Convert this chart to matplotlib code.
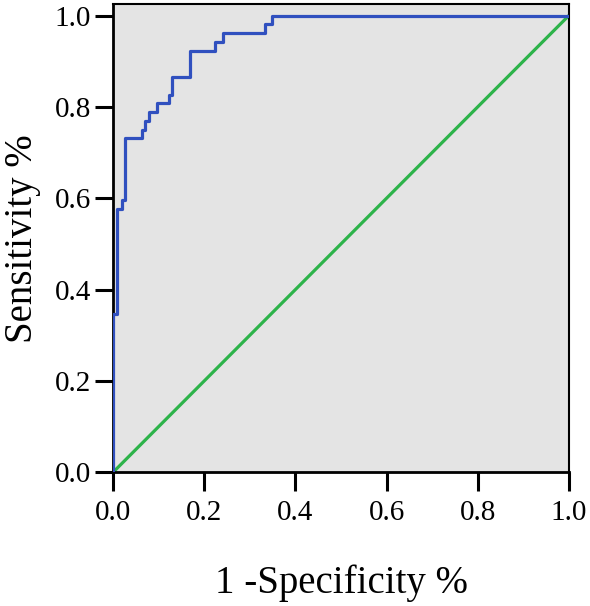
import matplotlib
matplotlib.use("Agg")
import matplotlib.pyplot as plt
import numpy as np

# ROC step points (1 - specificity, sensitivity)
fpr = [0.0, 0.0, 0.008, 0.008, 0.019, 0.019, 0.025, 0.025, 0.063, 0.063,
       0.069, 0.069, 0.078, 0.078, 0.095, 0.095, 0.122, 0.122, 0.128, 0.128,
       0.169, 0.169, 0.223, 0.223, 0.240, 0.240, 0.333, 0.333, 0.349, 0.349, 1.0]
tpr = [0.0, 0.346, 0.346, 0.577, 0.577, 0.596, 0.596, 0.731, 0.731, 0.750,
       0.750, 0.769, 0.769, 0.788, 0.788, 0.808, 0.808, 0.827, 0.827, 0.865,
       0.865, 0.923, 0.923, 0.942, 0.942, 0.962, 0.962, 0.981, 0.981, 1.0, 1.0]
ref_line = [0.0, 1.0]
ticks = [0.0, 0.2, 0.4, 0.6, 0.8, 1.0]

plt.rcParams['font.family'] = ['Liberation Serif', 'DejaVu Serif']

fig = plt.figure(figsize=(5.9, 6.06), dpi=100)
ax = fig.add_axes([0.192, 0.221, 0.772, 0.772])
ax.set_facecolor('#e4e4e4')

ax.plot(ref_line, ref_line, color='#2db34a', lw=2.3, zorder=2)
ax.plot(fpr, tpr, color='#3050bf', lw=2.3, zorder=3)

ax.set_xlim(0, 1.0)
ax.set_ylim(0, 1.025)
ax.set_xticks(ticks)
ax.set_yticks(ticks)
ax.set_xticklabels([f"{t:.1f}" for t in ticks])
ax.set_yticklabels([f"{t:.1f}" for t in ticks])
ax.tick_params(axis='x', length=14, width=2.2, labelsize=21, pad=6, color='black')
ax.tick_params(axis='y', length=13, width=2.2, labelsize=21, pad=3, color='black')

for side in ['left', 'bottom']:
    ax.spines[side].set_linewidth(2.0)
for side in ['top', 'right']:
    ax.spines[side].set_linewidth(1.5)

ax.set_xlabel("1 -Specificity %", fontsize=28, labelpad=28)
ax.set_ylabel("Sensitivity %", fontsize=28, labelpad=10)

fig.savefig("out.png", dpi=100)
